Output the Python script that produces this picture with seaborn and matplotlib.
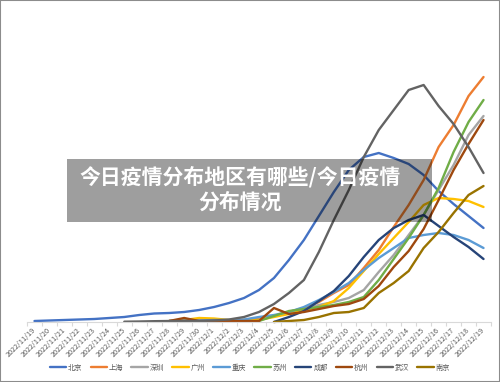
import numpy as np
import pandas as pd
import seaborn as sns
import matplotlib.pyplot as plt
from matplotlib.patches import Rectangle

# ---------------- data ----------------
dates = ["2022/11/19", "2022/11/20", "2022/11/21", "2022/11/22", "2022/11/23",
         "2022/11/24", "2022/11/25", "2022/11/26", "2022/11/27", "2022/11/28",
         "2022/11/29", "2022/11/30", "2022/12/1", "2022/12/2", "2022/12/3",
         "2022/12/4", "2022/12/5", "2022/12/6", "2022/12/7", "2022/12/8",
         "2022/12/9", "2022/12/10", "2022/12/11", "2022/12/12", "2022/12/13",
         "2022/12/14", "2022/12/15", "2022/12/16", "2022/12/17", "2022/12/18",
         "2022/12/19"]

cities = ["北京", "上海", "深圳", "广州", "重庆", "苏州", "成都", "杭州", "武汉", "南京"]
colors = ["#4472C4", "#ED7D31", "#A5A5A5", "#FFC000", "#5B9BD5",
          "#70AD47", "#264478", "#9E480E", "#636363", "#997300"]

beijing = [1, 1.5, 2, 2.5, 3, 4, 5, 7, 8.5, 9, 10, 12, 15, 19, 24, 32, 44, 62, 82,
           106, 130, 152, 165, 169, 164, 158, 147, 131, 118, 106, 94]
shanghai = [None] * 9 + [1, 1, 1, 1, 1, 2, 3, 6, 10, 14, 20, 29, 37, 54, 72, 95,
                         117, 142, 175, 197, 226, 245]
shenzhen = [None] * 9 + [1, 1, 1.5, 1.5, 1.5, 1.5, 2, 6, 9, 13, 17, 20, 24, 32, 50,
                         67, 87, 107, 132, 157, 187, 206]
guangzhou = [None] * 9 + [1, 2, 4, 3.5, 2, 2, 2, 5, 8, 12, 15, 21, 34, 51, 68, 84,
                          100, 117, 124, 123, 121, 115]
chongqing = [None] * 9 + [1, 1.5, 1.5, 2, 2, 2.5, 5, 7, 10, 15, 22, 30, 39, 52, 64,
                          74, 84, 87, 89, 87, 82, 74]
suzhou = [None] * 9 + [0.5, 0.5, 0.5, 0.5, 0.5, 0.5, 1, 6, 11, 13, 15, 17, 20, 25,
                       42, 63, 84, 107, 134, 170, 200, 222]
chengdu = [None] * 16 + [0, 5, 11, 21, 31, 46, 65, 82, 94, 102, 107, 96, 85, 75, 63]
hangzhou = [None] * 9 + [1, 4, 1, 1, 1, 1, 1, 14, 8, 10, 13, 16, 18, 23, 36, 55,
                         71, 93, 122, 152, 178, 202]
wuhan = [None] * 6 + [0.3, 0.5, 0.8, 1, 1, 1, 1.5, 2.5, 5, 10, 18, 29, 42, 70, 102,
                      132, 165, 192, 212, 232, 237, 216, 198, 175, 149]
nanjing = [None] * 16 + [0, 1, 2, 5, 9, 10, 14, 29, 39, 51, 74, 90, 109, 127, 136]

series = [beijing, shanghai, shenzhen, guangzhou, chongqing,
          suzhou, chengdu, hangzhou, wuhan, nanjing]

title_lines = ["今日疫情分布地区有哪些/今日疫情", "分布情况"]

# ---------------- build table ----------------
rows = []
for city, vals in zip(cities, series):
    for i, v in enumerate(vals):
        if v is not None:
            rows.append({"idx": i, "value": v, "city": city})
df = pd.DataFrame(rows)

# ---------------- style ----------------
sns.set_theme(style="white")
plt.rcParams['font.family'] = ['Noto Sans CJK SC', 'DejaVu Sans']

W, H = 500, 382
fig = plt.figure(figsize=(W / 100, H / 100), dpi=100)
fig.patch.set_facecolor("white")
ax = fig.add_axes([27 / W, 1 - 322 / H, (491 - 27) / W, (322 - 20) / H])

sns.lineplot(data=df, x="idx", y="value", hue="city", hue_order=cities,
             palette=colors, linewidth=1.7, errorbar=None, ax=ax)

ax.set_xlim(-0.5, len(dates) - 0.5)
ax.set_ylim(0, 302)
ax.set_xlabel("")
ax.set_ylabel("")
ax.set_yticks([])

for s in ["left", "top", "right"]:
    ax.spines[s].set_visible(False)
ax.spines["bottom"].set_color("#D9D9D9")
ax.spines["bottom"].set_linewidth(0.8)

ax.set_xticks(range(len(dates)))
ax.set_xticklabels(dates, rotation=45, ha="right", va="center",
                   rotation_mode="anchor", fontsize=5.2, color="#595959")
ax.set_xticks(np.arange(-0.5, len(dates), 1), minor=True)
ax.tick_params(axis="x", which="major", length=0, pad=5)
ax.tick_params(axis="x", which="minor", length=3, color="#D9D9D9", width=0.8,
               direction="out", bottom=True)
for ln in ax.get_lines():
    ln.set_clip_on(False)

handles, labels = ax.get_legend_handles_labels()
ax.get_legend().remove()
fig.legend(handles, labels, loc="center", bbox_to_anchor=(0.5, 1 - 368 / H),
           ncol=10, frameon=False, fontsize=5.2, handlelength=2.3,
           handletextpad=0.25, columnspacing=1.1, labelcolor="#595959")

# overlay title box
fig.add_artist(Rectangle((67 / W, 1 - 222 / H), (432 - 67) / W, (222 - 159) / H,
                         transform=fig.transFigure, facecolor="black",
                         alpha=0.38, edgecolor="none", zorder=10))
fig.text(240 / W, 1 - 177 / H, title_lines[0], ha="center", va="center",
         color="white", fontsize=15, fontweight="heavy", zorder=11)
fig.text(240 / W, 1 - 202 / H, title_lines[1], ha="center", va="center",
         color="white", fontsize=15, fontweight="heavy", zorder=11)

# outer border
fig.add_artist(Rectangle((0, 0), 1, 1, transform=fig.transFigure, fill=False,
                         edgecolor="#8C8C8C", linewidth=1.5, zorder=12))

fig.savefig("out.png", dpi=100)
